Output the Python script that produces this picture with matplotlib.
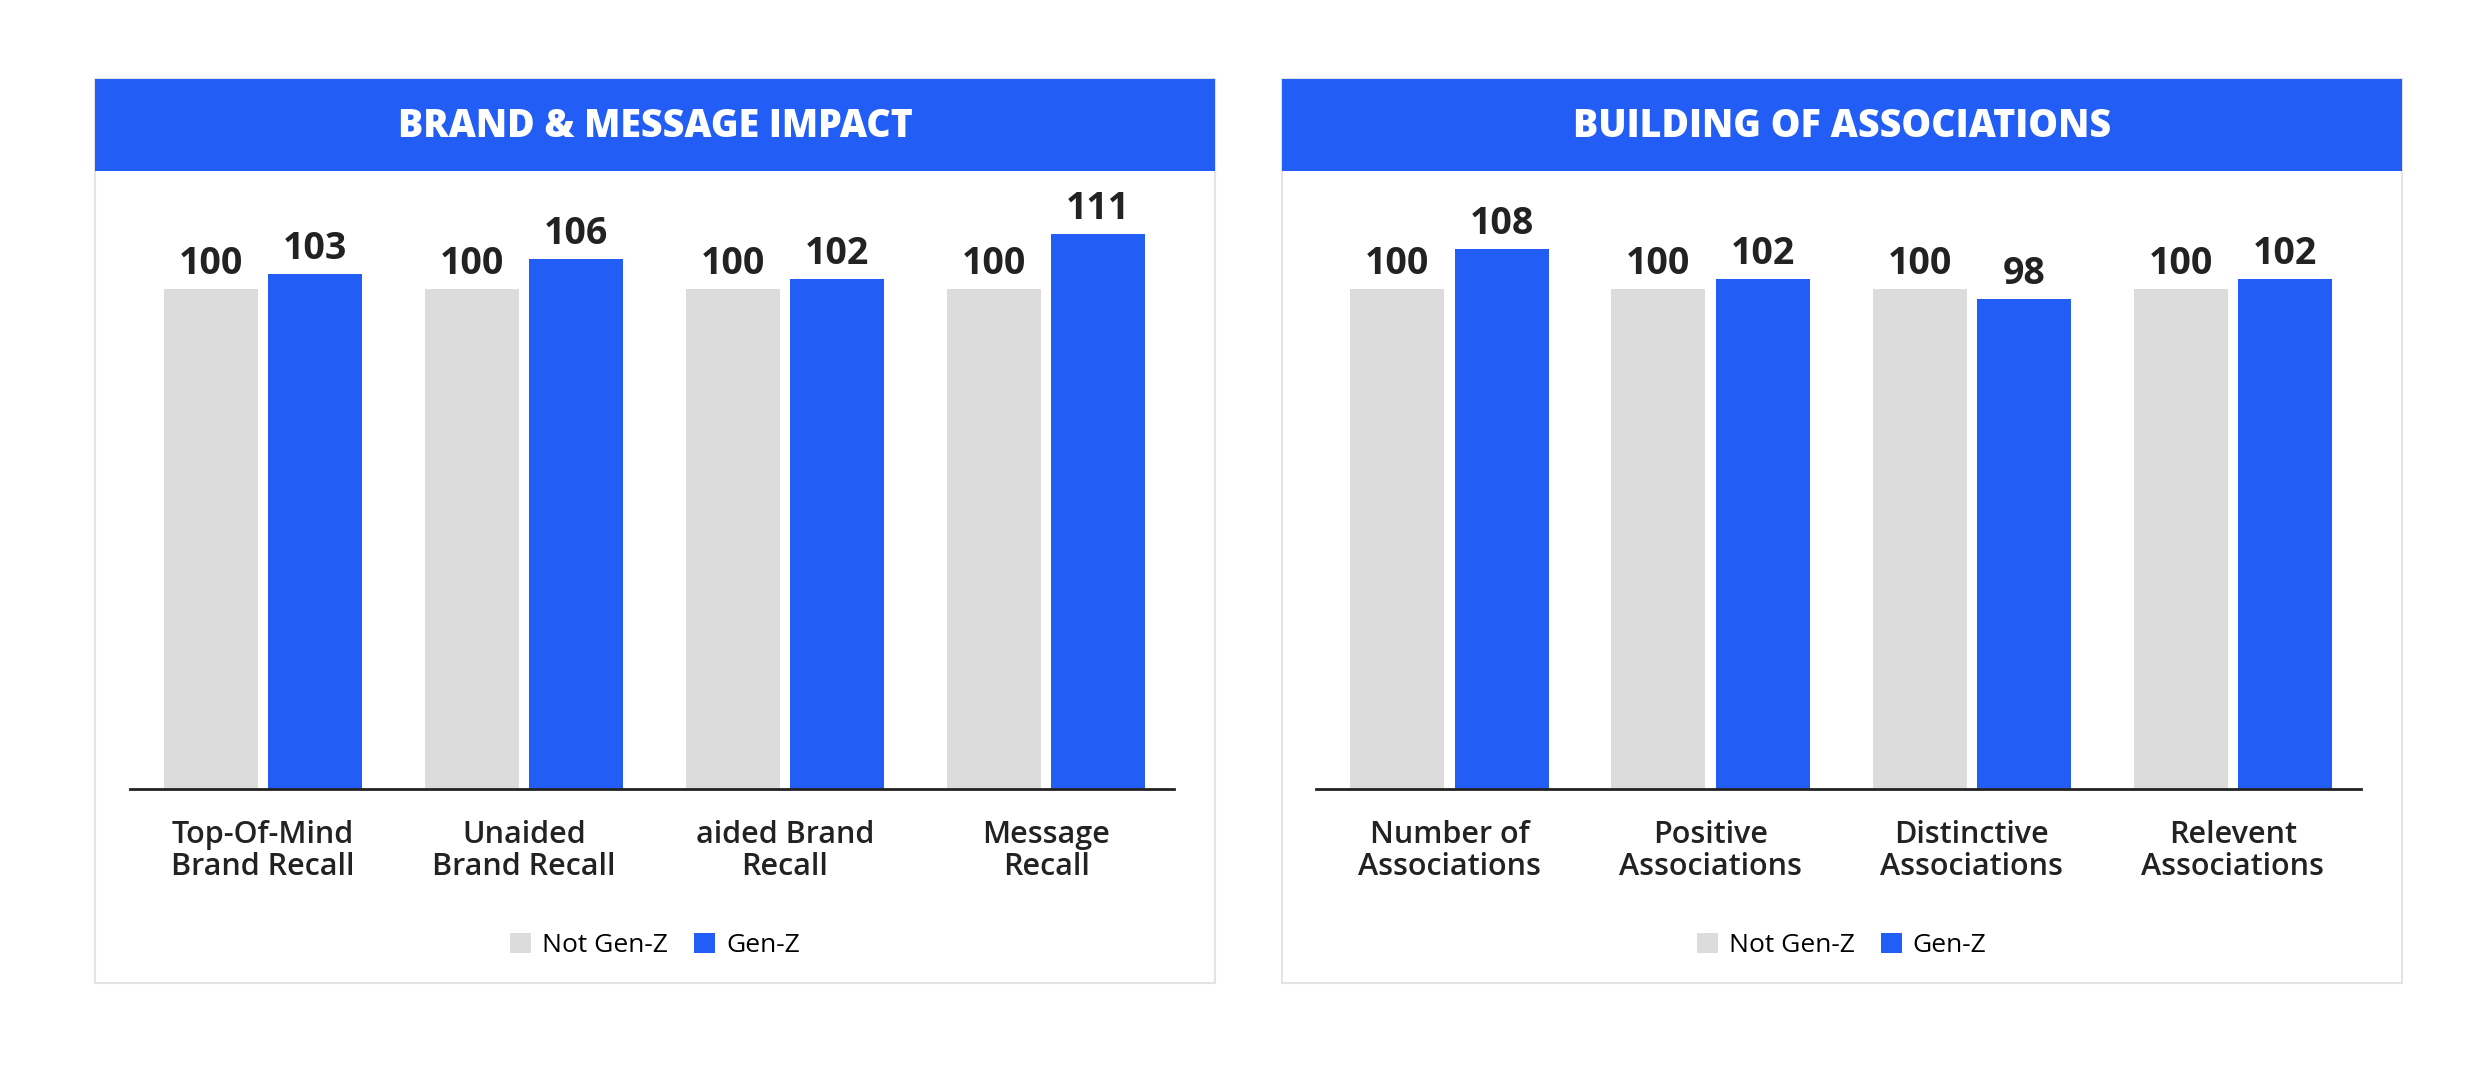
import matplotlib.pyplot as plt
from matplotlib.patches import Rectangle
import numpy as np

W, H = 1568, 690  # layout units (reference scaled)

left_title = 'BRAND & MESSAGE IMPACT'
left_cats = ['Top-Of-Mind\nBrand Recall', 'Unaided\nBrand Recall', 'aided Brand\nRecall', 'Message\nRecall']
left_not = [100, 100, 100, 100]
left_gen = [103, 106, 102, 111]

right_title = 'BUILDING OF ASSOCIATIONS'
right_cats = ['Number of\nAssociations', 'Positive\nAssociations', 'Distinctive\nAssociations', 'Relevent\nAssociations']
right_not = [100, 100, 100, 100]
right_gen = [108, 102, 98, 102]

BLUE = '#225EF5'
GREY = '#DCDCDC'

plt.rcParams['font.family'] = ['Open Sans', 'DejaVu Sans']

fig = plt.figure(figsize=(24.81, 10.91), dpi=100)


def fx(x):
    return x / W


def fy(y):
    return 1 - y / H


def panel(x0, title, cats, not_vals, gen_vals):
    # frame and header, drawn beneath the axes
    fig.patches.append(Rectangle((fx(x0), fy(622)), 708 / W, 572 / H, transform=fig.transFigure,
                                 facecolor='white', edgecolor='#E3E3E3', lw=1.5, zorder=-2))
    fig.patches.append(Rectangle((fx(x0), fy(108)), 708 / W, 58 / H, transform=fig.transFigure,
                                 facecolor=BLUE, edgecolor='none', zorder=-1))
    fig.text(fx(x0 + 354), fy(80), title, color='white', fontsize=27, fontweight='heavy',
             ha='center', va='center')

    ax = fig.add_axes([fx(x0 + 22), fy(499), 660 / W, 389 / H])
    ax.patch.set_alpha(0)
    x = np.arange(len(cats))
    b1 = ax.bar(x - 0.2, not_vals, 0.36, color=GREY, label='Not Gen-Z')
    b2 = ax.bar(x + 0.2, gen_vals, 0.36, color=BLUE, label='Gen-Z')
    for bars in (b1, b2):
        for b in bars:
            ax.text(b.get_x() + b.get_width() / 2, b.get_height() + 1.2, f'{b.get_height():.0f}',
                    ha='center', va='bottom', fontsize=27, fontweight='bold', color='#222222')
    ax.set_xlim(-0.51, 3.49)
    ax.set_ylim(0, 123.1)
    ax.set_yticks([])
    ax.set_xticks(x)
    ax.set_xticklabels(cats, fontsize=22, fontweight='semibold', color='#222222', linespacing=1.1)
    ax.tick_params(axis='x', length=0, pad=22)
    for s in ('top', 'right', 'left'):
        ax.spines[s].set_visible(False)
    ax.spines['bottom'].set_linewidth(2)
    ax.spines['bottom'].set_color('#222222')
    ax.legend(loc='center', bbox_to_anchor=(fx(x0 + 354), fy(598)), bbox_transform=fig.transFigure,
              ncol=2, frameon=False, fontsize=19, handlelength=0.8, handleheight=0.8,
              columnspacing=1.0, handletextpad=0.4)


panel(60, left_title, left_cats, left_not, left_gen)
panel(810, right_title, right_cats, right_not, right_gen)

fig.savefig('out.png', dpi=100, facecolor='white')
